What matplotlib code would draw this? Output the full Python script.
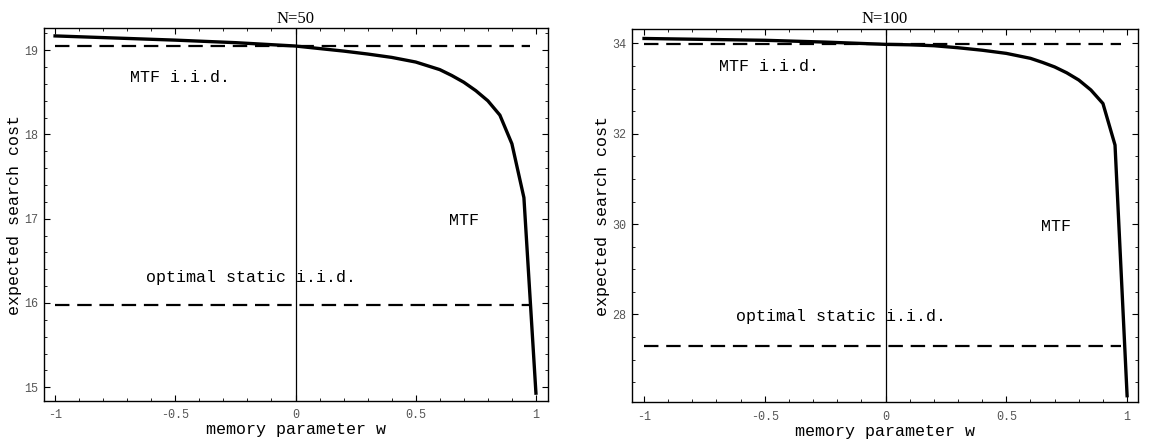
import matplotlib
matplotlib.use("Agg")
import matplotlib.pyplot as plt
from matplotlib.ticker import MultipleLocator, FixedLocator

# ---- data ----
w_points = [-1, -0.75, -0.5, -0.25, 0, 0.1, 0.2, 0.3, 0.4, 0.5, 0.6, 0.65, 0.7, 0.75, 0.8, 0.85, 0.9, 0.95, 1]
mtf_n50 = [19.17, 19.145, 19.12, 19.09, 19.05, 19.02, 18.99, 18.955, 18.915, 18.86, 18.77, 18.70, 18.62, 18.52,
           18.40, 18.23, 17.89, 17.25, 14.93]
mtf_n100 = [34.11, 34.09, 34.07, 34.03, 33.98, 33.97, 33.95, 33.905, 33.85, 33.78, 33.67, 33.58, 33.48, 33.35,
            33.19, 32.97, 32.67, 31.75, 26.2]
mtf_iid = {"N=50": 19.05, "N=100": 33.98}
opt_static = {"N=50": 15.98, "N=100": 27.30}
dash_w = [-1, 0.975]

xticks = [-1, -0.5, 0, 0.5, 1]
xtick_labels = ["-1", "-0.5", "0", "0.5", "1"]
yticks_n50 = [15, 16, 17, 18, 19]
yticks_n100 = [28, 30, 32, 34]

fig = plt.figure(figsize=(11.49, 4.42), dpi=100)

mono = ["Liberation Mono", "DejaVu Sans Mono"]
serif = ["Liberation Serif", "DejaVu Serif"]

panels = [
    dict(key="N=50", rect=[0.0383, 0.0934, 0.4386, 0.8425], mtf=mtf_n50, ylim=(14.84, 19.26),
         xlim=(-1.046, 1.05), yticks=yticks_n50, yminor=0.2,
         t_iid=(-0.69, 18.68), t_mtf=(0.64, 16.98), t_opt=(-0.62, 16.30)),
    dict(key="N=100", rect=[0.550, 0.0894, 0.4404, 0.845], mtf=mtf_n100, ylim=(26.05, 34.32),
         xlim=(-1.05, 1.045), yticks=yticks_n100, yminor=0.5,
         t_iid=(-0.69, 33.48), t_mtf=(0.645, 29.94), t_opt=(-0.62, 27.96)),
]

for p in panels:
    ax = fig.add_axes(p["rect"])
    ax.set_xlim(*p["xlim"])
    ax.set_ylim(*p["ylim"])
    # vertical axis line at w=0
    ax.axvline(0, color="black", lw=0.9, zorder=1)
    # dashed reference lines
    for val in (mtf_iid[p["key"]], opt_static[p["key"]]):
        ax.plot(dash_w, [val, val], color="black", lw=1.6, dashes=(6.5, 3.5), zorder=2)
    # MTF curve
    ax.plot(w_points, p["mtf"], color="black", lw=2.4, solid_joinstyle="round", zorder=3)

    ax.xaxis.set_major_locator(FixedLocator(xticks))
    ax.set_xticklabels(xtick_labels)
    ax.xaxis.set_minor_locator(MultipleLocator(0.1))
    ax.yaxis.set_major_locator(FixedLocator(p["yticks"]))
    ax.yaxis.set_minor_locator(MultipleLocator(p["yminor"]))
    ax.tick_params(which="both", direction="in", top=True, right=True, colors="black",
                   labelcolor="#555555", labelsize=8.5)
    ax.tick_params(which="major", length=4, width=0.8)
    ax.tick_params(which="minor", length=2, width=0.6)
    ax.tick_params(axis="x", pad=6)
    ax.tick_params(axis="y", pad=4)
    for lab in ax.get_xticklabels() + ax.get_yticklabels():
        lab.set_family(mono)
    for s in ax.spines.values():
        s.set_linewidth(1.0)
        s.set_color("black")

    ax.set_title(p["key"], fontsize=12, family=serif, pad=4)
    ax.set_xlabel("memory parameter w", fontsize=12, family=mono, labelpad=1)
    ax.set_ylabel("expected search cost", fontsize=12, family=mono, labelpad=2)

    ax.text(*p["t_iid"], "MTF i.i.d.", fontsize=12, family=mono, ha="left", va="center")
    ax.text(*p["t_mtf"], "MTF", fontsize=12, family=mono, ha="left", va="center")
    ax.text(*p["t_opt"], "optimal static i.i.d.", fontsize=12, family=mono, ha="left", va="center")

fig.savefig("out.png", dpi=100)
